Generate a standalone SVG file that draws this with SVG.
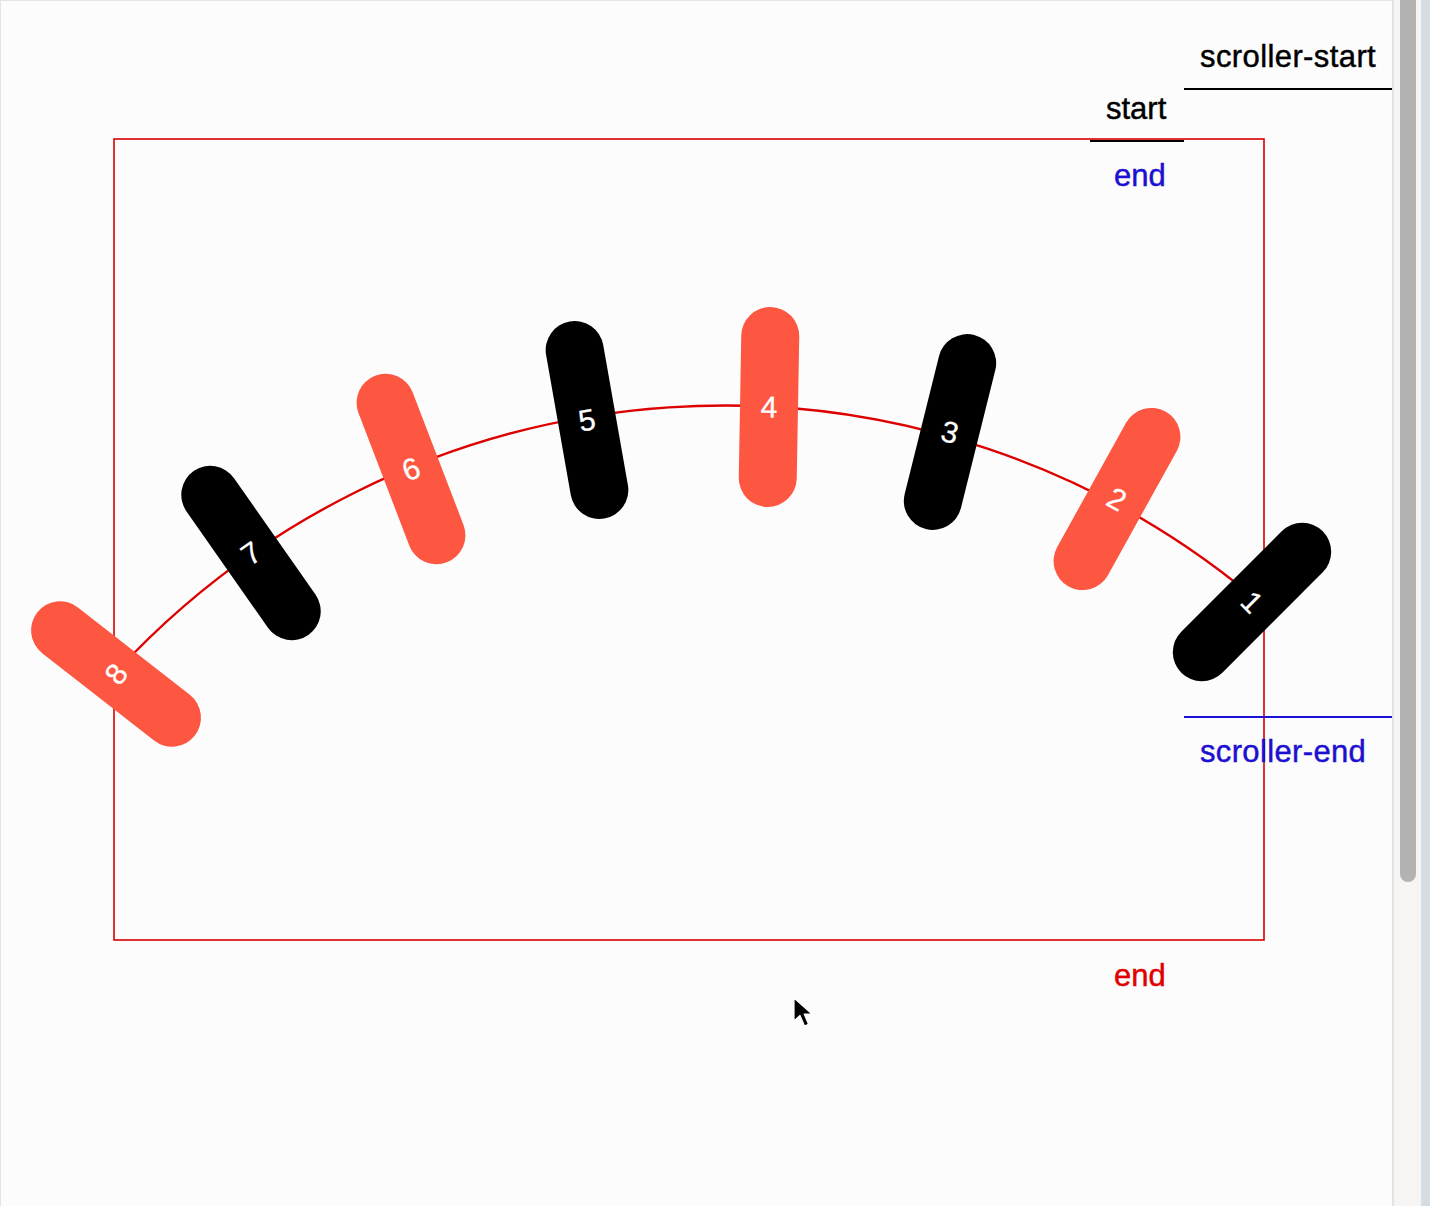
<svg xmlns="http://www.w3.org/2000/svg" width="1430" height="1206" viewBox="0 0 1430 1206">
  <style>
    .lbl { font-family: "Liberation Sans", Arial, Helvetica, sans-serif; font-size: 31px; stroke-width: 0.45px; }
    .num { font-family: "Liberation Sans", Arial, Helvetica, sans-serif; font-size: 30px; fill: #ffffff; stroke: #ffffff; stroke-width: 0.3px; text-anchor: middle; dominant-baseline: central; }
    .red { fill: #fd5641; }
    .blk { fill: #000000; }
  </style>
  <defs>
    <rect id="pill" x="-29" y="-100" width="58" height="200" rx="29" ry="29"/>
  </defs>

  <!-- page background -->
  <rect x="0" y="0" width="1430" height="1206" fill="#fcfcfc"/>
  <line x1="0.5" y1="0" x2="0.5" y2="1206" stroke="#e4e4e4" stroke-width="1"/>
  <line x1="0" y1="0.5" x2="1392" y2="0.5" stroke="#e4e4e4" stroke-width="1"/>

  <!-- scrollbar -->
  <g id="scrollbar">
    <rect x="1392" y="0" width="2" height="1206" fill="#e2e2e2"/>
    <rect x="1394" y="0" width="27" height="1206" fill="#f7f4f4"/>
    <rect x="1421" y="0" width="9" height="1206" fill="#d5dce3"/>
    <path d="M1400,0 H1416 V874 A8,8 0 0 1 1408,882 A8,8 0 0 1 1400,874 Z" fill="#b2b2b2"/>
  </g>

  <!-- red scroll box -->
  <rect id="box" x="114" y="139" width="1150" height="801" fill="none" stroke="#d80000" stroke-width="1.6"/>

  <!-- marker lines and labels -->
  <g id="markers">
    <line x1="1184" y1="89" x2="1392" y2="89" stroke="#000" stroke-width="2"/>
    <line x1="1090" y1="141" x2="1184" y2="141" stroke="#000" stroke-width="2"/>
    <line x1="1184" y1="717" x2="1392" y2="717" stroke="#1d10d6" stroke-width="2"/>
  </g>
  <g id="label-scroller-start"><text class="lbl" x="1200" y="67" fill="#000" stroke="#000" letter-spacing="0.4">scroller-start</text></g>
  <g id="label-start"><text class="lbl" x="1106" y="119" fill="#000" stroke="#000">start</text></g>
  <g id="label-end-blue"><text class="lbl" x="1114" y="186" fill="#1d0fcf" stroke="#1d0fcf">end</text></g>
  <g id="label-scroller-end"><text class="lbl" x="1200" y="762" fill="#1d0fcf" stroke="#1d0fcf" letter-spacing="0.35">scroller-end</text></g>
  <g id="label-end-red"><text class="lbl" x="1114" y="986" fill="#e00000" stroke="#e00000">end</text></g>

  <!-- connectors: arc -->
  <g id="connectors">
    <path d="M116,672 A827,827 0 0 1 1252,596" fill="none" stroke="#dd0000" stroke-width="2.4"/>
  </g>

  <!-- pills -->
  <g id="pill-1" transform="translate(1252,602) rotate(45)"><use href="#pill" class="blk"/><text class="num" x="0" y="0">1</text></g>
  <g id="pill-2" transform="translate(1117,499) rotate(29)"><use href="#pill" class="red"/><text class="num" x="0" y="0">2</text></g>
  <g id="pill-3" transform="translate(950,432) rotate(14)"><use href="#pill" class="blk"/><text class="num" x="0" y="0">3</text></g>
  <g id="pill-4" transform="translate(769,407) rotate(1)"><use href="#pill" class="red"/><text class="num" x="0" y="0">4</text></g>
  <g id="pill-5" transform="translate(587,420) rotate(-10)"><use href="#pill" class="blk"/><text class="num" x="0" y="0">5</text></g>
  <g id="pill-6" transform="translate(411,469) rotate(-21)"><use href="#pill" class="red"/><text class="num" x="0" y="0">6</text></g>
  <g id="pill-7" transform="translate(251,553) rotate(-35)"><use href="#pill" class="blk"/><text class="num" x="0" y="0">7</text></g>
  <g id="pill-8" transform="translate(116,674) rotate(-52)"><use href="#pill" class="red"/><text class="num" x="0" y="0">8</text></g>

  <!-- mouse cursor -->
  <g id="cursor">
    <path d="M794,998 L794,1021 L800,1015.5 L804.5,1026 L808.5,1024.3 L804.2,1014 L812,1014 Z" fill="#000" stroke="#fff" stroke-width="1.2" stroke-linejoin="round"/>
  </g>
</svg>
